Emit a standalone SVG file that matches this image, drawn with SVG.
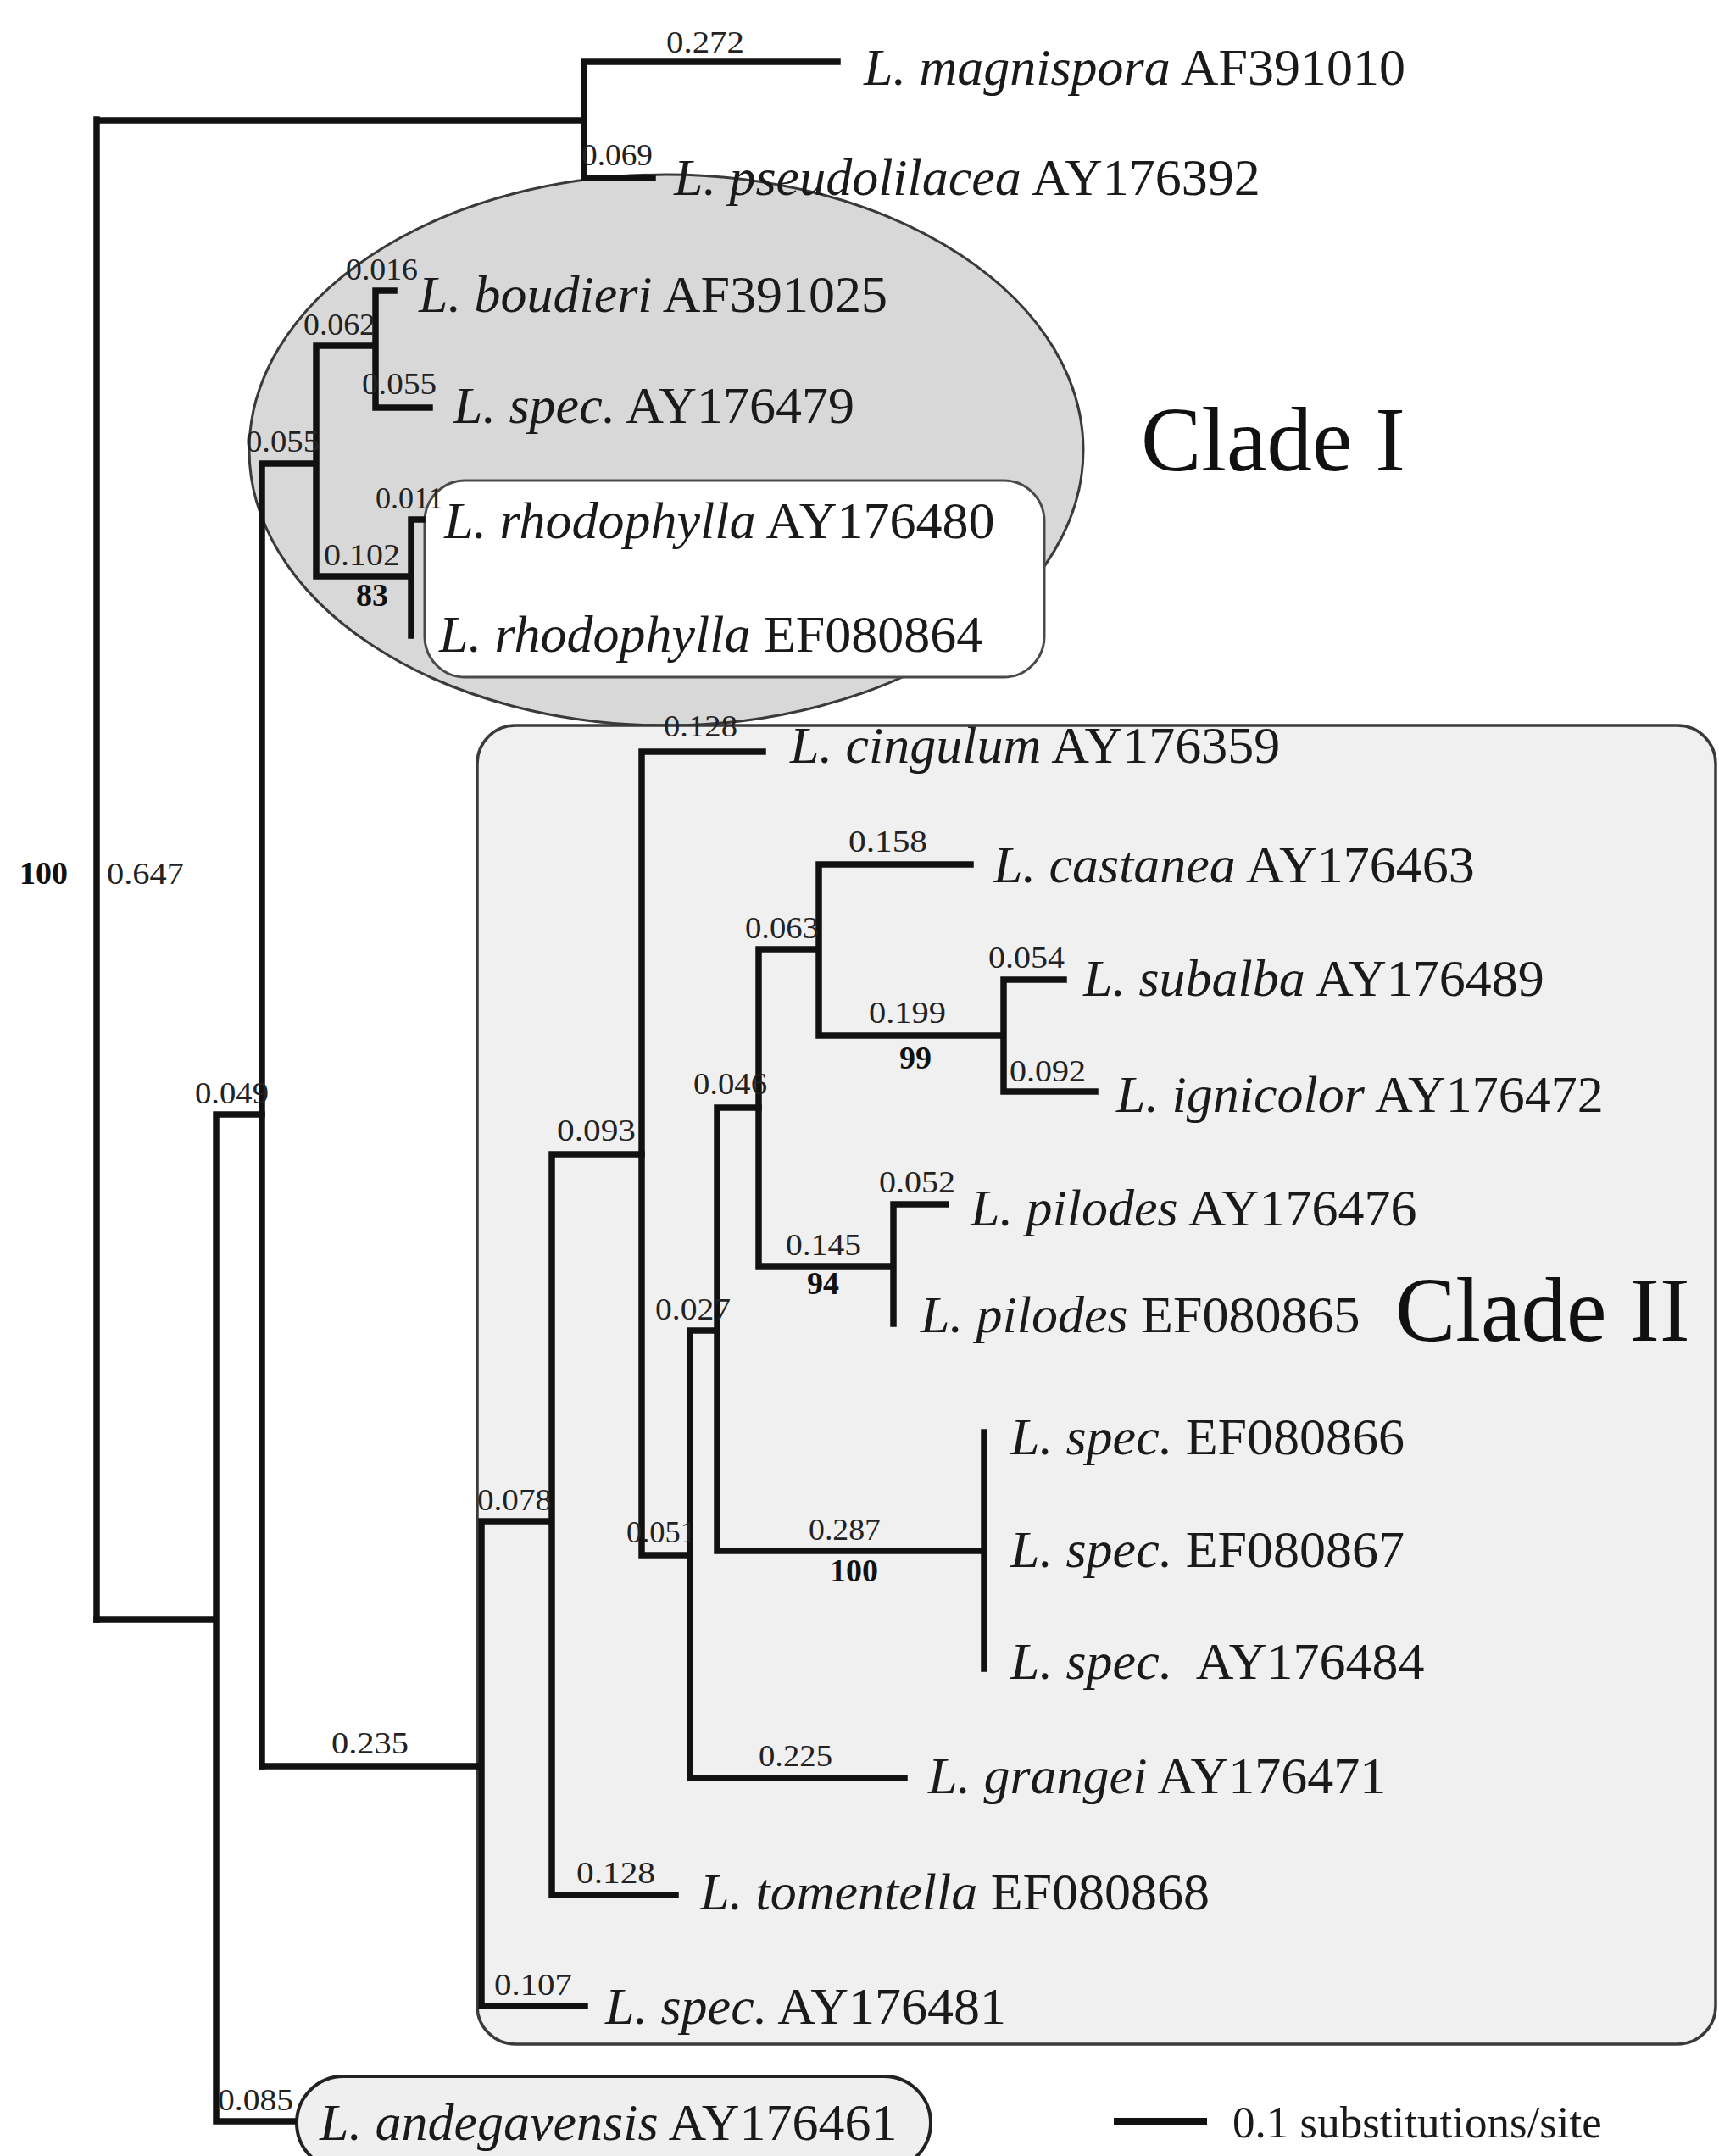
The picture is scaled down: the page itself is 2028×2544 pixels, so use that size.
<svg xmlns="http://www.w3.org/2000/svg" width="2028" height="2544" viewBox="0 0 2028 2544">
<style>
.br{fill:none;stroke:#111;stroke-width:7.5;stroke-linecap:square}
.tx{font-family:"Liberation Serif","Times New Roman",serif;font-size:62px;fill:#1a1a1a}
.it{font-style:italic}
.bl{font-family:"Liberation Serif","Times New Roman",serif;font-size:36px;fill:#222}
.bs{font-family:"Liberation Serif","Times New Roman",serif;font-size:38px;font-weight:bold;fill:#111}
.cl{font-family:"Liberation Serif","Times New Roman",serif;font-size:107px;fill:#111}
</style>
<rect width="2028" height="2544" fill="#ffffff"/>
<g id="clade-I-area">
<ellipse cx="786" cy="531" rx="492" ry="325" fill="#d8d8d8" stroke="#3a3a3a" stroke-width="3"/>
</g>
<g id="clade-II-area">
<rect x="563" y="856" width="1461" height="1556" rx="45" fill="#f0f0f0" stroke="#3a3a3a" stroke-width="3.5"/>
</g>
<g id="rhodophylla-box">
<rect x="501" y="567" width="731" height="232" rx="48" fill="#ffffff" stroke="#4a4a4a" stroke-width="3"/>
</g>
<g id="andegavensis-box">
<rect x="350" y="2450" width="748" height="110" rx="55" fill="#efefef" stroke="#222" stroke-width="4"/>
</g>
<g id="connectors">
<path class="br" d="M114 141V1911M114 142H689M689 73V210M689 73H988M689 210H770"/>
<path class="br" d="M114 1911H255M255 1315V2503M255 2503H346M255 1315H309"/>
<path class="br" d="M309 547V2084M309 547H373M373 408V680M373 408H443M443 343V481M443 343H465M443 481H507M373 680H485M485 613V750M485 613H498"/>
<path class="br" d="M309 2084H568M568 1795V2367M568 1795H651M568 2367H690M651 1362V2236M651 1362H757M651 2236H797"/>
<path class="br" d="M757 887V1835M757 887H900M757 1835H814M814 1570V2098M814 2098H1067M814 1570H846"/>
<path class="br" d="M846 1307V1830M846 1307H895M846 1830H1161M1161 1690V1969"/>
<path class="br" d="M895 1120V1494M895 1120H966M895 1494H1054M966 1020V1222M966 1020H1145M966 1222H1184M1184 1156V1288M1184 1156H1255M1184 1288H1292M1054 1421V1562M1054 1421H1116"/>
</g>
<g id="branch-labels">
<text class="bl" x="786" y="62" textLength="92" lengthAdjust="spacingAndGlyphs">0.272</text>
<text class="bl" x="686" y="195" textLength="84" lengthAdjust="spacingAndGlyphs">0.069</text>
<text class="bl" x="408" y="330" textLength="85" lengthAdjust="spacingAndGlyphs">0.016</text>
<text class="bl" x="358" y="395" textLength="85" lengthAdjust="spacingAndGlyphs">0.062</text>
<text class="bl" x="427" y="465" textLength="88" lengthAdjust="spacingAndGlyphs">0.055</text>
<text class="bl" x="290" y="533" textLength="87" lengthAdjust="spacingAndGlyphs">0.055</text>
<text class="bl" x="382" y="667" textLength="90" lengthAdjust="spacingAndGlyphs">0.102</text>
<text class="bs" x="420" y="715">83</text>
<text class="bl" x="443" y="600" textLength="80" lengthAdjust="spacingAndGlyphs">0.011</text>
<text class="bs" x="23" y="1043">100</text>
<text class="bl" x="126" y="1043" textLength="91" lengthAdjust="spacingAndGlyphs">0.647</text>
<text class="bl" x="230" y="1302" textLength="87" lengthAdjust="spacingAndGlyphs">0.049</text>
<text class="bl" x="391" y="2069" textLength="91" lengthAdjust="spacingAndGlyphs">0.235</text>
<text class="bl" x="257" y="2490" textLength="89" lengthAdjust="spacingAndGlyphs">0.085</text>
<text class="bl" x="563" y="1782" textLength="88" lengthAdjust="spacingAndGlyphs">0.078</text>
<text class="bl" x="583" y="2354" textLength="92" lengthAdjust="spacingAndGlyphs">0.107</text>
<text class="bl" x="657" y="1346" textLength="93" lengthAdjust="spacingAndGlyphs">0.093</text>
<text class="bl" x="680" y="2222" textLength="93" lengthAdjust="spacingAndGlyphs">0.128</text>
<text class="bl" x="783" y="869" textLength="87" lengthAdjust="spacingAndGlyphs">0.128</text>
<text class="bl" x="739" y="1820" textLength="82" lengthAdjust="spacingAndGlyphs">0.051</text>
<text class="bl" x="895" y="2084" textLength="87" lengthAdjust="spacingAndGlyphs">0.225</text>
<text class="bl" x="773" y="1557" textLength="89" lengthAdjust="spacingAndGlyphs">0.027</text>
<text class="bl" x="818" y="1291" textLength="87" lengthAdjust="spacingAndGlyphs">0.046</text>
<text class="bl" x="954" y="1817" textLength="85" lengthAdjust="spacingAndGlyphs">0.287</text>
<text class="bs" x="979" y="1866">100</text>
<text class="bl" x="879" y="1107" textLength="87" lengthAdjust="spacingAndGlyphs">0.063</text>
<text class="bl" x="927" y="1481" textLength="89" lengthAdjust="spacingAndGlyphs">0.145</text>
<text class="bs" x="952" y="1527">94</text>
<text class="bl" x="1001" y="1005" textLength="93" lengthAdjust="spacingAndGlyphs">0.158</text>
<text class="bl" x="1025" y="1207" textLength="91" lengthAdjust="spacingAndGlyphs">0.199</text>
<text class="bs" x="1061" y="1261">99</text>
<text class="bl" x="1166" y="1142" textLength="90" lengthAdjust="spacingAndGlyphs">0.054</text>
<text class="bl" x="1191" y="1276" textLength="90" lengthAdjust="spacingAndGlyphs">0.092</text>
<text class="bl" x="1037" y="1407" textLength="90" lengthAdjust="spacingAndGlyphs">0.052</text>
</g>
<g id="taxon-magnispora"><text class="tx" x="1019" y="100"><tspan class="it">L. magnispora</tspan> AF391010</text></g>
<g id="taxon-pseudolilacea"><text class="tx" x="795" y="230"><tspan class="it">L. pseudolilacea</tspan> AY176392</text></g>
<g id="taxon-boudieri"><text class="tx" x="494" y="368"><tspan class="it">L. boudieri</tspan> AF391025</text></g>
<g id="taxon-spec-AY176479"><text class="tx" x="535" y="499"><tspan class="it">L. spec.</tspan> AY176479</text></g>
<g id="taxon-rhodophylla-AY176480"><text class="tx" x="524" y="635"><tspan class="it">L. rhodophylla</tspan> AY176480</text></g>
<g id="taxon-rhodophylla-EF080864"><text class="tx" x="518" y="769"><tspan class="it">L. rhodophylla</tspan> EF080864</text></g>
<g id="taxon-cingulum"><text class="tx" x="932" y="900"><tspan class="it">L. cingulum</tspan> AY176359</text></g>
<g id="taxon-castanea"><text class="tx" x="1172" y="1041"><tspan class="it">L. castanea</tspan> AY176463</text></g>
<g id="taxon-subalba"><text class="tx" x="1278" y="1175"><tspan class="it">L. subalba</tspan> AY176489</text></g>
<g id="taxon-ignicolor"><text class="tx" x="1317" y="1312"><tspan class="it">L. ignicolor</tspan> AY176472</text></g>
<g id="taxon-pilodes-AY176476"><text class="tx" x="1145" y="1446"><tspan class="it">L. pilodes</tspan> AY176476</text></g>
<g id="taxon-pilodes-EF080865"><text class="tx" x="1086" y="1572"><tspan class="it">L. pilodes</tspan> EF080865</text></g>
<g id="taxon-spec-EF080866"><text class="tx" x="1192" y="1716"><tspan class="it">L. spec.</tspan> EF080866</text></g>
<g id="taxon-spec-EF080867"><text class="tx" x="1192" y="1849"><tspan class="it">L. spec.</tspan> EF080867</text></g>
<g id="taxon-spec-AY176484"><text class="tx" x="1192" y="1981" xml:space="preserve"><tspan class="it">L. spec.</tspan>  AY176484</text></g>
<g id="taxon-grangei"><text class="tx" x="1095" y="2116"><tspan class="it">L. grangei</tspan> AY176471</text></g>
<g id="taxon-tomentella"><text class="tx" x="826" y="2253"><tspan class="it">L. tomentella</tspan> EF080868</text></g>
<g id="taxon-spec-AY176481"><text class="tx" x="714" y="2388"><tspan class="it">L. spec.</tspan> AY176481</text></g>
<g id="taxon-andegavensis"><text class="tx" x="377" y="2525"><tspan class="it">L. andegavensis</tspan> AY176461</text></g>
<g id="clade-labels">
<text class="cl" x="1346" y="555">Clade I</text>
<text class="cl" x="1646" y="1582">Clade II</text>
</g>
<g id="scale-bar">
<line x1="1314" y1="2503" x2="1424" y2="2503" stroke="#111" stroke-width="8"/>
<text class="tx" x="1454" y="2522" style="font-size:53px">0.1 substitutions/site</text>
</g>
</svg>
